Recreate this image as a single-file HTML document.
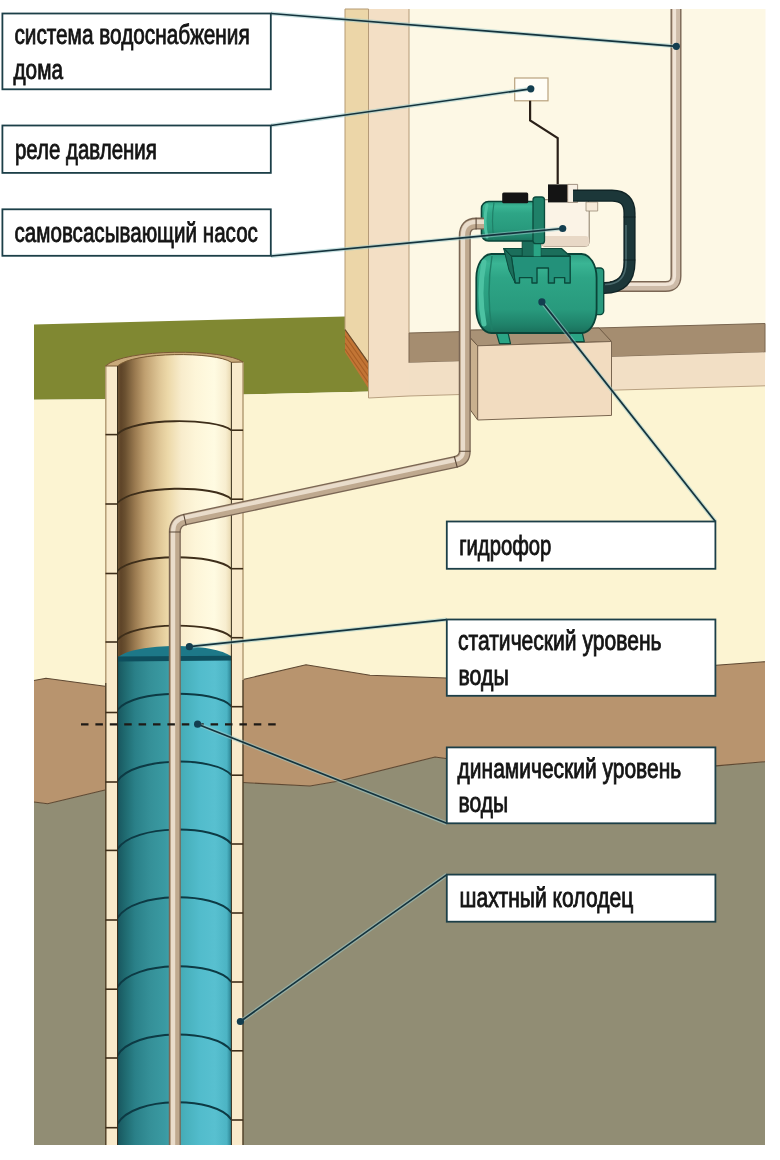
<!DOCTYPE html>
<html><head><meta charset="utf-8">
<style>
html,body{margin:0;padding:0;background:#fff;}
body{width:780px;height:1160px;overflow:hidden;}
svg{display:block;}
text{font-family:"Liberation Sans",sans-serif;font-size:26.8px;fill:#141414;stroke:#141414;stroke-width:0.85px;}
</style></head><body>
<svg width="780" height="1160" viewBox="0 0 780 1160">
<defs>
<linearGradient id="wellIn" x1="0" x2="1" y1="0" y2="0">
<stop offset="0" stop-color="#6e5232"/><stop offset="0.03" stop-color="#5e4428"/><stop offset="0.066" stop-color="#6a5030"/>
<stop offset="0.154" stop-color="#9a7a50"/><stop offset="0.24" stop-color="#c0a070"/><stop offset="0.374" stop-color="#e0c898"/>
<stop offset="0.44" stop-color="#ecd8a8"/><stop offset="0.56" stop-color="#f8eccc"/><stop offset="0.68" stop-color="#fdf5d8"/>
<stop offset="0.85" stop-color="#fffbe2"/><stop offset="0.95" stop-color="#f8eed0"/><stop offset="1" stop-color="#e8d8b0"/>
</linearGradient>
<linearGradient id="water" x1="0" x2="1" y1="0" y2="0">
<stop offset="0" stop-color="#154a52"/><stop offset="0.02" stop-color="#1a5c64"/><stop offset="0.066" stop-color="#1f6a70"/>
<stop offset="0.154" stop-color="#2a8088"/><stop offset="0.285" stop-color="#359098"/><stop offset="0.417" stop-color="#3a9aa2"/>
<stop offset="0.593" stop-color="#48b0bc"/><stop offset="0.724" stop-color="#52bccc"/><stop offset="0.856" stop-color="#58c0d0"/>
<stop offset="0.96" stop-color="#4cb4c4"/><stop offset="1" stop-color="#2a8090"/>
</linearGradient>
<clipPath id="inClip"><rect x="117.5" y="300" width="113.9" height="860"/></clipPath>
<linearGradient id="tankG" x1="0" x2="0" y1="0" y2="1">
<stop offset="0" stop-color="#2f9f83"/><stop offset="0.12" stop-color="#3ab594"/><stop offset="0.3" stop-color="#2ea586"/>
<stop offset="0.7" stop-color="#289a7d"/><stop offset="0.9" stop-color="#1f8169"/><stop offset="1" stop-color="#1a705b"/>
</linearGradient>
</defs>
<rect width="780" height="1160" fill="#fff"/>
<!-- grass -->
<polygon points="34,324.6 345,316.5 372,316 372,391.5 243,394.5 105,399.3 34,399.7" fill="#808832"/>
<!-- beige soil -->
<polygon points="34,399.7 105,399.3 243,394.5 372,391.5 765,385 765,1145 34,1145" fill="#fcf4d2"/>
<!-- brown soil -->
<polygon points="34,680.5 46,678.3 105,686.2 243,679.5 306,664.8 370,675.3 446,678 716,665.2 765,661.7 765,761.7 716,765.9 446,758.5 435,757 339,781 310,786 243,782.5 105,790 47.6,803.8 34,802" fill="#b8946e"/>
<!-- grey soil -->
<polygon points="34,802 47.6,803.8 105,790 243,782.5 310,786 339,781 435,757 446,758.5 716,765.9 765,761.7 765,1145 34,1145" fill="#918d74"/>
<g fill="none" stroke="#5e4832" stroke-width="1.1"><polyline points="34,680.5 46,678.3 105,686.2"/><polyline points="243,679.5 306,664.8 370,675.3 446,678 716,665.2 765,661.7"/><polyline points="34,802 47.6,803.8 105,790"/><polyline points="243,782.5 310,786 339,781 435,757 446,758.5 716,765.9 765,761.7"/></g>
<!-- HOUSE -->
<polygon points="409,9 765.5,9 765.5,360 409,370" fill="#fdf8e5"/>
<polygon points="345,9 368.5,9 368.5,362.8 345,329.5" fill="#ecd6a8" stroke="#b59a72" stroke-width="1"/>
<polygon points="345,329.5 368.5,362.8 368.5,388.5 345,352" fill="#c27535"/>
<path d="M345,336 L368.5,369.5 M345,343 L368.5,376.5 M345,349 L368.5,383" stroke="#a85e25" stroke-width="1.2" fill="none"/>
<path d="M345,329.5 L368.5,362.8" stroke="#6a4a2a" stroke-width="1.2"/>
<polygon points="368.5,9 409,9 409,396 368.5,398" fill="#f3dfc5"/>
<path d="M368.5,9 V398 M409,9 V333" stroke="#b49a78" stroke-width="1" fill="none"/>
<path d="M368.5,398 L409,396" stroke="#b8a080" stroke-width="1"/>
<polygon points="409,333 765,323.5 765,352.3 409,362.8" fill="#a58d70" stroke="#7a6650" stroke-width="1"/>
<polygon points="409,362.8 765,352.3 765,385.8 409,396" fill="#f2dfc5"/>
<path d="M409,396 L765,385.8" stroke="#b8a080" stroke-width="1" fill="none"/>
<!-- block -->
<polygon points="470.4,330 599,328 611.5,341.5 477.7,345.8 470.4,338" fill="#a99276" stroke="#6e5a44" stroke-width="1"/>
<polygon points="470.4,338 477.7,345.8 477.7,420 470.4,410" fill="#c9b08e" stroke="#6e5a44" stroke-width="1"/>
<polygon points="477.7,345.8 611.5,341.5 611.5,415.4 477.7,420" fill="#f2dcc0" stroke="#7a6650" stroke-width="1"/>
<!-- PIPES -->
<g fill="none" stroke-linejoin="round">
<path id="pHouse" d="M676,9 V276 Q676,286.4 665.6,286.4 H610" stroke="#7a6654" stroke-width="11"/>
<path d="M676,9 V276 Q676,286.4 665.6,286.4 H610" stroke="#cdbba8" stroke-width="8.2"/>
<path d="M674.5,9 V276 Q674.5,284.5 665.6,284.5 H610" stroke="#efe3d5" stroke-width="3.2"/>
</g>
<!-- TANK -->
<g stroke-linejoin="round">
<polygon points="495,328 507,328 510.5,343.7 499.5,343.7" fill="#2aa585" stroke="#0b4a3c" stroke-width="1.2"/>
<polygon points="567.8,327 581,327 584.3,341.7 571.4,341.7" fill="#2aa585" stroke="#0b4a3c" stroke-width="1.2"/>
<rect x="594" y="268" width="9.7" height="46.6" rx="3.5" fill="#2a9a7e" stroke="#0b4a3c" stroke-width="1.4"/>
<rect x="476.3" y="254" width="120.3" height="79" rx="15" ry="24" fill="url(#tankG)" stroke="#0a4438" stroke-width="1.8"/>
<path d="M484,262 Q478,293 484,324" stroke="#4cc2a2" stroke-width="5" fill="none" stroke-linecap="round"/>
<path d="M492,256 Q486,293 492,330" stroke="#1f8068" stroke-width="1.4" fill="none"/>
<!-- saddle -->
<polygon points="503.7,248.5 561.5,248.5 570.2,256.3 511.3,256.3" fill="#1b6e5b" stroke="#0b4a3c" stroke-width="1.2"/>
<polygon points="511.3,256.3 570.2,256.3 570.2,283 564.7,283 564.7,277.6 554.4,277.6 554.4,283 548.4,283 548.4,268 537,268 537,283 532,283 532,277.6 519.5,277.6 519.5,283 515.2,283" fill="#23917a" stroke="#0b4a3c" stroke-width="1.4"/>
<polygon points="503.7,248.5 511.3,256.3 515.2,283 509,270" fill="#1b6e5b" stroke="#0b4a3c" stroke-width="1"/>
<rect x="522.2" y="240" width="18.6" height="16.3" fill="#1b6e5b" stroke="#0b4a3c" stroke-width="1"/>
<rect x="533.7" y="243" width="7" height="13.3" fill="#2aa585"/>
</g>
<!-- PUMP -->
<g stroke-linejoin="round">
<rect x="541" y="199.7" width="48.2" height="46.7" rx="4" fill="#fbf3e6" stroke="#8a7a68" stroke-width="1"/>
<rect x="541" y="236" width="48.2" height="10.4" rx="4" fill="#e8d8c6"/>
<rect x="586" y="202" width="11.7" height="9" fill="#f6ead8" stroke="#9a8a76" stroke-width="0.8"/>
<rect x="481.5" y="201.5" width="57.5" height="39.5" rx="7" fill="url(#tankG)" stroke="#0a4438" stroke-width="1.6"/>
<path d="M487,205 Q483,221 487,237" stroke="#4cc2a2" stroke-width="3" fill="none" stroke-linecap="round"/>
<path d="M494,202.5 Q491,221 494,240" stroke="#1f8068" stroke-width="1.2" fill="none"/>
<rect x="533" y="197" width="11.5" height="46.7" rx="3" fill="#1f8068" stroke="#0b4a3c" stroke-width="1.3"/>
<rect x="502.2" y="192.6" width="26" height="10.7" rx="1.5" fill="#141414"/>
<rect x="548" y="184.4" width="19.7" height="18" fill="#141414"/>
<rect x="567.7" y="184.4" width="9.9" height="18" fill="#f8f0e4" stroke="#8a7a68" stroke-width="0.8"/>
</g>
<!-- HOSE -->
<path d="M573,195.7 H612 Q629.5,195.7 629.5,213 V262 Q629.5,288 604,288" fill="none" stroke="#102426" stroke-width="12.2"/>
<path d="M573,195.7 H612 Q629.5,195.7 629.5,213 V262 Q629.5,288 604,288" fill="none" stroke="#1c3739" stroke-width="9.5"/>
<path d="M626,225 V262 Q626,284.5 605,284.5" fill="none" stroke="#587a7c" stroke-width="1.6" opacity="0.75"/>
<path d="M623.5,217 H635.5 M623.5,260 H635.5" stroke="#0c1c1e" stroke-width="1" opacity="0.7"/>
<!-- RELAY -->
<rect x="514.7" y="78" width="33.3" height="22.8" fill="#fffdf6" stroke="#b9a27e" stroke-width="1.2"/>
<path d="M530.1,100.8 V120.3 L557.7,138.2 V184" fill="none" stroke="#2a2018" stroke-width="2.2"/>
<!-- WELL -->
<rect x="105.5" y="366" width="12" height="779" fill="#f9eacb"/>
<rect x="231.4" y="362" width="11.7" height="783" fill="#f9eacb"/>
<path d="M105.8,366 V683 M243,362 V680" stroke="#b09870" stroke-width="1.4"/>
<path d="M105.8,683 V1145 M243,680 V1145" stroke="#4a3a22" stroke-width="1.4"/>
<path d="M117.5,1145 V366 C133.5,351.45 215.4,351.45 231.4,362.3 V1145 Z" fill="url(#wellIn)"/>
<path d="M105.5,366 C124.5,348.4 224,348.4 243.1,362 L231.4,362.3 C215.4,351.45 133.5,351.45 117.5,366 Z" fill="#c9a97a" stroke="#7a5a34" stroke-width="1"/>
<rect x="117.5" y="659" width="113.9" height="486" fill="url(#water)"/>
<path d="M117.5,657.7 C133.5,642.2 215.4,642.2 231.4,656.8 Z" fill="#1d7888"/>
<path d="M117.5,656.5 L231.4,655.8 L231.4,660.5 L117.5,661.5 Z" fill="#0e4e5d"/>
<path clip-path="url(#inClip)" d="M117.5,434.0 C133.5,417.6 215.4,417.6 231.4,430.2" stroke="#3e2e1a" stroke-width="1.9" fill="none"/>
<path clip-path="url(#inClip)" d="M117.5,503.0 C133.5,484.6 215.4,484.6 231.4,499.2" stroke="#3e2e1a" stroke-width="1.9" fill="none"/>
<path clip-path="url(#inClip)" d="M117.5,570.8 C133.5,553.1 215.4,553.1 231.4,568.7" stroke="#3e2e1a" stroke-width="1.9" fill="none"/>
<path clip-path="url(#inClip)" d="M117.5,639.6 C133.5,621.4 215.4,621.4 231.4,637.1" stroke="#3e2e1a" stroke-width="1.9" fill="none"/>
<path clip-path="url(#inClip)" d="M117.5,710.0 C133.5,688.9 215.4,688.9 231.4,706.2" stroke="#0d3a44" stroke-width="2" fill="none"/>
<path clip-path="url(#inClip)" d="M117.5,781.0 C133.5,756.2 215.4,756.2 231.4,775.2" stroke="#0d3a44" stroke-width="2" fill="none"/>
<path clip-path="url(#inClip)" d="M117.5,849.0 C133.5,824.0 215.4,824.0 231.4,844.0" stroke="#0d3a44" stroke-width="2" fill="none"/>
<path clip-path="url(#inClip)" d="M117.5,917.9 C133.5,891.3 215.4,891.3 231.4,912.7" stroke="#0d3a44" stroke-width="2" fill="none"/>
<path clip-path="url(#inClip)" d="M117.5,987.0 C133.5,960.2 215.4,960.2 231.4,982.0" stroke="#0d3a44" stroke-width="2" fill="none"/>
<path clip-path="url(#inClip)" d="M117.5,1055.5 C133.5,1028.2 215.4,1028.2 231.4,1050.8" stroke="#0d3a44" stroke-width="2" fill="none"/>
<path clip-path="url(#inClip)" d="M117.5,1123.8 C133.5,1095.8 215.4,1095.8 231.4,1119.6" stroke="#0d3a44" stroke-width="2" fill="none"/>
<line x1="105.5" y1="434.6" x2="117.5" y2="434.6" stroke="#3e2e1a" stroke-width="1.6"/>
<line x1="105.5" y1="504" x2="117.5" y2="504" stroke="#3e2e1a" stroke-width="1.6"/>
<line x1="105.5" y1="573.5" x2="117.5" y2="573.5" stroke="#3e2e1a" stroke-width="1.6"/>
<line x1="105.5" y1="642" x2="117.5" y2="642" stroke="#3e2e1a" stroke-width="1.6"/>
<line x1="105.5" y1="712.5" x2="117.5" y2="712.5" stroke="#3e2e1a" stroke-width="1.6"/>
<line x1="105.5" y1="782" x2="117.5" y2="782" stroke="#3e2e1a" stroke-width="1.6"/>
<line x1="105.5" y1="850.4" x2="117.5" y2="850.4" stroke="#3e2e1a" stroke-width="1.6"/>
<line x1="105.5" y1="920" x2="117.5" y2="920" stroke="#3e2e1a" stroke-width="1.6"/>
<line x1="105.5" y1="989.2" x2="117.5" y2="989.2" stroke="#3e2e1a" stroke-width="1.6"/>
<line x1="105.5" y1="1058" x2="117.5" y2="1058" stroke="#3e2e1a" stroke-width="1.6"/>
<line x1="105.5" y1="1127.7" x2="117.5" y2="1127.7" stroke="#3e2e1a" stroke-width="1.6"/>
<line x1="231.4" y1="430.2" x2="243.1" y2="430.2" stroke="#3e2e1a" stroke-width="1.6"/>
<line x1="231.4" y1="499.2" x2="243.1" y2="499.2" stroke="#3e2e1a" stroke-width="1.6"/>
<line x1="231.4" y1="568.7" x2="243.1" y2="568.7" stroke="#3e2e1a" stroke-width="1.6"/>
<line x1="231.4" y1="637.7" x2="243.1" y2="637.7" stroke="#3e2e1a" stroke-width="1.6"/>
<line x1="231.4" y1="706.7" x2="243.1" y2="706.7" stroke="#3e2e1a" stroke-width="1.6"/>
<line x1="231.4" y1="775.2" x2="243.1" y2="775.2" stroke="#3e2e1a" stroke-width="1.6"/>
<line x1="231.4" y1="844" x2="243.1" y2="844" stroke="#3e2e1a" stroke-width="1.6"/>
<line x1="231.4" y1="913" x2="243.1" y2="913" stroke="#3e2e1a" stroke-width="1.6"/>
<line x1="231.4" y1="982" x2="243.1" y2="982" stroke="#3e2e1a" stroke-width="1.6"/>
<line x1="231.4" y1="1050.8" x2="243.1" y2="1050.8" stroke="#3e2e1a" stroke-width="1.6"/>
<line x1="231.4" y1="1120" x2="243.1" y2="1120" stroke="#3e2e1a" stroke-width="1.6"/>
<path d="M117.5,366 V1145 M231.4,362.3 V1145" stroke="#3a2e1c" stroke-width="1"/>
<!-- INLET PIPE -->
<g fill="none" stroke-linejoin="round">
<path d="M174.8,1145 V532 Q174.8,521.7 185,519.5 L455.8,461.8 Q464.75,459.9 464.75,451.3 V235.7 Q464.75,223.6 476.1,223.6 H484" stroke="#7a6654" stroke-width="12"/>
<path d="M174.8,1145 V532 Q174.8,521.7 185,519.5 L455.8,461.8 Q464.75,459.9 464.75,451.3 V235.7 Q464.75,223.6 476.1,223.6 H484" stroke="#bfa98f" stroke-width="9.4"/>
<path d="M173.1,1145 V532 Q173.1,519.6 184.6,517.5 L455.4,459.9 Q463,458.6 463,451.3 V235.7 Q463,221.8 476.1,221.8 H484" stroke="#e9dccb" stroke-width="4.2"/>
<path d="M169,532 H180.6 M183.6,514 L186.2,525.4 M454.2,456 L457.3,467.6 M459,451.3 H470.5 M476.1,217.8 V229.4" stroke="#5a4838" stroke-width="1.1"/>
</g>
<!-- dashed -->
<line x1="81" y1="724.3" x2="275.8" y2="724.3" stroke="#1e1a16" stroke-width="2.2" stroke-dasharray="7.5,6.9"/>
<!-- LEADERS -->
<g stroke="#9ccaca" stroke-width="4" fill="none" opacity="0.55">
<line x1="271" y1="13.5" x2="676.3" y2="46.3"/>
<line x1="271" y1="125.5" x2="530.8" y2="88.8"/>
<line x1="271" y1="256" x2="562.7" y2="228.5"/>
<line x1="715.4" y1="521.5" x2="541.9" y2="301.9"/>
<line x1="446.7" y1="619.6" x2="189.4" y2="646.7"/>
<line x1="446.7" y1="823.3" x2="197.6" y2="724.2"/>
<line x1="446.9" y1="874.6" x2="240.4" y2="1021.5"/>
</g>
<g stroke="#14333d" stroke-width="1.7" fill="none">
<line x1="271" y1="13.5" x2="676.3" y2="46.3"/>
<line x1="271" y1="125.5" x2="530.8" y2="88.8"/>
<line x1="271" y1="256" x2="562.7" y2="228.5"/>
<line x1="715.4" y1="521.5" x2="541.9" y2="301.9"/>
<line x1="446.7" y1="619.6" x2="189.4" y2="646.7"/>
<line x1="446.7" y1="823.3" x2="197.6" y2="724.2"/>
<line x1="446.9" y1="874.6" x2="240.4" y2="1021.5"/>
</g>
<g fill="#133e50">
<circle cx="676.3" cy="46.3" r="3.6"/>
<circle cx="530.8" cy="88.8" r="3.6"/>
<circle cx="562.7" cy="228.5" r="3.6"/>
<circle cx="541.9" cy="301.9" r="3.6"/>
<circle cx="189.4" cy="646.7" r="3.6"/>
<circle cx="197.6" cy="724.2" r="3.6"/>
<circle cx="240.4" cy="1021.5" r="3.6"/>
</g>
<!-- BOXES -->
<g fill="#ffffff" stroke="#1c3f48" stroke-width="1.8">
<rect x="2.4" y="13.5" width="268.4" height="75.8"/>
<rect x="2.4" y="125.5" width="268.4" height="47.4"/>
<rect x="2.4" y="209.3" width="268.4" height="46.5"/>
<rect x="446.8" y="521.5" width="268.6" height="47.3"/>
<rect x="446.8" y="619.5" width="268.6" height="76.3"/>
<rect x="446.8" y="747.4" width="268.6" height="75.9"/>
<rect x="446.8" y="874.6" width="268.6" height="47.1"/>
</g>
<g style="filter:grayscale(1)">
<text x="14.4" y="44.3" textLength="235.3" lengthAdjust="spacingAndGlyphs">система водоснабжения</text>
<text x="13.5" y="78.8" textLength="49.5" lengthAdjust="spacingAndGlyphs">дома</text>
<text x="14.9" y="158.7" textLength="142" lengthAdjust="spacingAndGlyphs">реле давления</text>
<text x="14.5" y="242.3" textLength="243.4" lengthAdjust="spacingAndGlyphs">самовсасывающий насос</text>
<text x="459.2" y="554.6" textLength="92.1" lengthAdjust="spacingAndGlyphs">гидрофор</text>
<text x="458" y="650.4" textLength="203.5" lengthAdjust="spacingAndGlyphs">статический уровень</text>
<text x="458.5" y="685" textLength="50.2" lengthAdjust="spacingAndGlyphs">воды</text>
<text x="457.6" y="777.8" textLength="223.6" lengthAdjust="spacingAndGlyphs">динамический уровень</text>
<text x="458.5" y="812.4" textLength="49.7" lengthAdjust="spacingAndGlyphs">воды</text>
<text x="459.5" y="907.4" textLength="173.8" lengthAdjust="spacingAndGlyphs">шахтный колодец</text>
</g>
</svg>
</body></html>
